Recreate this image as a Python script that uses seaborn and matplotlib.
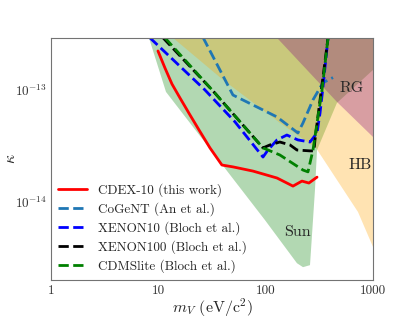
import numpy as np
import pandas as pd
import seaborn as sns
import matplotlib
matplotlib.use('Agg')
import matplotlib.pyplot as plt

# limits (mass in eV/c^2, kinetic mixing kappa)
cdex_m = [9.85, 11.45, 13.3, 15.8, 19.6, 23.8, 30.1, 38.9, 49.3, 75.8, 127, 179, 217, 252, 300]
cdex_k = [2.23e-13, 1.57e-13, 1.13e-13, 8.48e-14, 5.97e-14, 4.38e-14, 3.03e-14, 2.13e-14,
          2.05e-14, 1.88e-14, 1.63e-14, 1.38e-14, 1.53e-14, 1.47e-14, 1.66e-14]

cogent_m = [25.9, 49.3, 127, 199, 222, 275, 341, 423]
cogent_k = [2.95e-13, 9.0e-14, 5.73e-14, 4.12e-14, 5.07e-14, 8.14e-14, 1.16e-13, 1.29e-13]

xenon10_m = [8.3, 27.0, 51.5, 94, 104.6, 127, 157, 199, 258, 300, 320, 341, 380]
xenon10_k = [2.92e-13, 1.0e-13, 5.18e-14, 2.51e-14, 2.9e-14, 3.57e-14, 3.95e-14, 3.57e-14,
             3.42e-14, 4.12e-14, 6.22e-14, 1.06e-13, 2.92e-13]

xenon100_m = [11.0, 32.1, 94, 109, 135, 168, 195, 258, 281, 287, 320, 380]
xenon100_k = [2.92e-13, 9.8e-14, 3.03e-14, 3.22e-14, 3.42e-14, 3.22e-14, 2.9e-14, 2.85e-14,
              2.85e-14, 3.57e-14, 8.14e-14, 2.92e-13]

cdmslite_m = [11.45, 32.1, 94, 135, 222, 247, 275, 300, 334, 380]
cdmslite_k = [2.92e-13, 9.8e-14, 3.03e-14, 2.62e-14, 1.92e-14, 1.85e-14, 2.9e-14, 5.07e-14,
              1.0e-13, 2.92e-13]

# astrophysical bounds (shaded)
sun_m = [8.12, 8.12, 11.7, 98, 195, 222, 258, 287, 300, 460, 1000, 1000]
sun_k = [1e-12, 2.92e-13, 9.6e-14, 6.86e-15, 2.82e-15, 2.6e-15, 2.71e-15, 1.27e-14, 2.9e-14,
         7.65e-14, 1.51e-13, 1e-12]

hb_m = [13.6, 39.8, 135.4, 293, 723, 1000, 1000, 13.6]
hb_k = [2.92e-13, 1.23e-13, 5.07e-14, 3.03e-14, 8.1e-15, 3.93e-15, 1e-12, 1e-12]

rg_m = [127, 460, 1000, 1000, 127]
rg_k = [2.92e-13, 7.81e-14, 3.79e-14, 1e-12, 1e-12]

x_ticks = [1, 10, 100, 1000]
y_ticks = [1e-14, 1e-13]

series = [
    ('CDEX-10 (this work)', cdex_m, cdex_k, 'red', '-'),
    ('CoGeNT (An et al.)', cogent_m, cogent_k, '#1f77b4', '--'),
    ('XENON10 (Bloch et al.)', xenon10_m, xenon10_k, 'blue', '--'),
    ('XENON100 (Bloch et al.)', xenon100_m, xenon100_k, 'black', '--'),
    ('CDMSlite (Bloch et al.)', cdmslite_m, cdmslite_k, 'green', '--'),
]

sns.set_style("white")
plt.rcParams['font.family'] = 'serif'
plt.rcParams['font.serif'] = ['cmr10']
plt.rcParams['mathtext.fontset'] = 'cm'
plt.rcParams['axes.formatter.use_mathtext'] = True
plt.rcParams['xtick.direction'] = 'in'
plt.rcParams['ytick.direction'] = 'in'

fig = plt.figure(figsize=(4.15, 3.21), dpi=100)
ax = fig.add_axes([0.124, 0.128, 0.775, 0.753])

ax.fill(sun_m, sun_k, color='green', alpha=0.3, lw=0)
ax.fill(hb_m, hb_k, color='orange', alpha=0.3, lw=0)
ax.fill(rg_m, rg_k, color='purple', alpha=0.3, lw=0)

for name, m, k, c, ls in series:
    d = pd.DataFrame({'m': m, 'k': k})
    sns.lineplot(data=d, x='m', y='k', sort=False, estimator=None, color=c,
                 linestyle=ls, lw=2, label=name, ax=ax)

ax.set_xscale('log')
ax.set_yscale('log')
ax.set_xlim(1, 1000)
ax.set_ylim(2e-15, 2.9e-13)
ax.set_xticks(x_ticks)
ax.set_yticks(y_ticks)
ax.xaxis.set_major_formatter(matplotlib.ticker.FuncFormatter(lambda v, p: f'{v:g}'))
ax.xaxis.set_minor_formatter(matplotlib.ticker.NullFormatter())
ax.yaxis.set_minor_formatter(matplotlib.ticker.NullFormatter())

ax.text(636, 1.04e-13, 'RG', ha='center', va='center', fontsize=11.5)
ax.text(755, 2.13e-14, 'HB', ha='center', va='center', fontsize=11.5)
ax.text(195, 5.36e-15, 'Sun', ha='center', va='center', fontsize=11.5)

ax.set_xlabel(r'$m_V$ (eV/c$^2$)', fontsize=11.5, labelpad=0)
ax.set_ylabel(r'$\kappa$', fontsize=11.5)
ax.yaxis.set_label_coords(-0.105, 0.5)
ax.tick_params(labelsize=9.5, colors='0.2', length=3)
ax.tick_params(which='minor', length=1.5)
for s in ax.spines.values():
    s.set_color('0.45')
    s.set_linewidth(0.8)

ax.legend(loc='lower left', frameon=False, fontsize=9.5, handlelength=2.2,
          labelspacing=0.4, borderaxespad=0.1)

fig.savefig('out.png', dpi=100)
